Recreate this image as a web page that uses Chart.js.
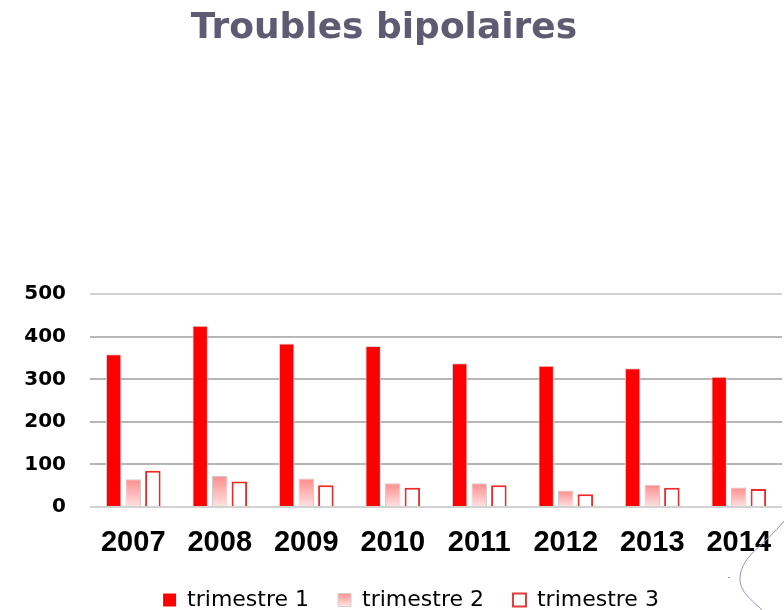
<!DOCTYPE html>
<html>
<head>
<meta charset="utf-8">
<script src="https://cdn.jsdelivr.net/npm/chart.js@4/dist/chart.umd.min.js"></script>
<style>
  html, body { margin: 0; padding: 0; background: #fff; }
  #wrap { width: 784px; height: 610px; position: relative; }
</style>
</head>
<body>
<div id="wrap"><canvas id="chart"></canvas></div>
<script>
// data
const years = ["2007", "2008", "2009", "2010", "2011", "2012", "2013", "2014"];
const trimestre1 = [359, 426, 384, 378, 338, 332, 326, 306];
const trimestre2 = [65, 73, 67, 56, 56, 39, 52, 46];
const trimestre3 = [85, 60, 51, 45, 51, 30, 45, 42];
const yTicks = [0, 100, 200, 300, 400, 500];

// pink gradient for trimestre 2, one per bar (darker at top)
function pinkGradient(ctx) {
  const chart = ctx.chart;
  const yScale = chart.scales.y;
  if (!chart.chartArea || !yScale || ctx.parsed === undefined) return "#ffb0b0";
  const top = yScale.getPixelForValue(ctx.parsed.y);
  const bottom = yScale.getPixelForValue(0);
  const g = chart.ctx.createLinearGradient(0, top, 0, bottom);
  g.addColorStop(0, "#ff8c8c");
  g.addColorStop(1, "#ffe2e2");
  return g;
}

// little purple swirl in the lower right corner of the slide
const decoration = {
  id: "decoration",
  afterDraw(chart) {
    const c = chart.ctx;
    c.save();
    c.strokeStyle = "#9b8ccb";
    c.lineWidth = 1;
    c.beginPath();
    c.moveTo(784, 521);
    c.bezierCurveTo(765, 545, 742, 555, 740, 577);
    c.bezierCurveTo(739, 592, 752, 600, 763, 611);
    c.stroke();
    c.fillStyle = "#9b8ccb";
    c.fillRect(728, 577, 2, 1);
    c.restore();
  },
};

// legend sits a little right of centre in the slide, title a little left
const blockShift = {
  id: "blockShift",
  afterLayout(chart) {
    chart.legend.left += 20;
    chart.legend.right += 20;
    chart.titleBlock.left -= 7;
    chart.titleBlock.right -= 7;
  },
};

let ctx = document.getElementById("chart");
let chart = new Chart(ctx, {
  type: "bar",
  data: {
    labels: years,
    datasets: [
      {
        label: "trimestre 1",
        data: trimestre1,
        backgroundColor: "#ff0000",
        borderColor: "#d8d8d8",
        borderWidth: 1,
      },
      {
        label: "trimestre 2",
        data: trimestre2,
        backgroundColor: pinkGradient,
        borderColor: "#cccccc",
        borderWidth: 1,
      },
      {
        label: "trimestre 3",
        data: trimestre3,
        backgroundColor: "#ffffff",
        borderColor: "#f02828",
        borderWidth: 2,
      },
    ],
  },
  options: {
    responsive: true,
    maintainAspectRatio: false,
    animation: false,
    categoryPercentage: 0.68,
    barPercentage: 0.79,
    layout: { padding: { left: 0, right: 2, top: 0, bottom: -11 } },
    plugins: {
      title: {
        display: true,
        text: "Troubles bipolaires",
        color: "#5f5b72",
        font: { family: "'DejaVu Sans'", size: 36, weight: "bold" },
        padding: { top: 7, bottom: 244 },
      },
      legend: {
        position: "bottom",
        labels: {
          color: "#000",
          font: { family: "'DejaVu Sans'", size: 22 },
          boxWidth: 13,
          boxHeight: 13,
          padding: 29,
          generateLabels(chart) {
            const items = Chart.defaults.plugins.legend.labels.generateLabels(chart);
            const g = chart.ctx.createLinearGradient(0, chart.height - 17, 0, chart.height - 4);
            g.addColorStop(0, "#ff8c8c");
            g.addColorStop(1, "#ffe2e2");
            items[0].fillStyle = "#ff0000";
            items[0].strokeStyle = "#ff0000";
            items[0].lineWidth = 0;
            items[1].fillStyle = g;
            items[1].strokeStyle = "#d0d0d0";
            items[1].lineWidth = 1;
            items[2].fillStyle = "#ffffff";
            items[2].strokeStyle = "#e03c3c";
            items[2].lineWidth = 2;
            return items;
          },
        },
      },
      tooltip: { enabled: false },
    },
    scales: {
      x: {
        grid: { display: false, tickLength: 8 },
        border: { display: false },
        afterFit(scale) {
          scale.height = 53;
        },
        ticks: {
          color: "#000",
          padding: 11,
          font: { family: "'Liberation Sans', Arial", size: 29, weight: "bold" },
        },
      },
      y: {
        min: 0,
        max: 500,
        afterBuildTicks(scale) {
          scale.ticks = yTicks.map((v) => ({ value: v }));
        },
        afterFit(scale) {
          scale.width = 90;
        },
        border: { display: false },
        grid: {
          drawTicks: false,
          lineWidth: 2,
          color: (c) => (c.tick && (c.tick.value === 0 || c.tick.value === 500) ? "#d2d2d2" : "#b6b6b6"),
        },
        ticks: {
          color: "#000",
          padding: 24,
          font: { family: "'DejaVu Sans'", size: 20, weight: "bold" },
        },
      },
    },
  },
  plugins: [decoration, blockShift],
});
</script>
</body>
</html>
